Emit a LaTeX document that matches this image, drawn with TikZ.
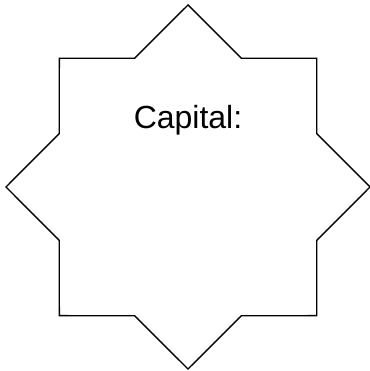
\documentclass[tikz,border=0pt]{standalone}
\usepackage{fontspec}
\setmainfont{Liberation Sans}
\usetikzlibrary{shapes.geometric,positioning}
\tikzset{
  seal/.style={star,star points=8,star point ratio=1.306,minimum size=364pt,
    inner sep=0pt,draw=black,line width=1.4pt,line join=miter},
  caption/.style={font=\fontsize{32}{36}\selectfont,text=black,inner sep=0pt},
}
\begin{document}
\begin{tikzpicture}[x=1pt,y=1pt]
  \useasboundingbox (0,0) rectangle (369,371);
  \node[seal] (star) at (188,184) {};
  \node[caption,anchor=base] (title) at ([yshift=58pt]star.center) {Capital:};
\end{tikzpicture}
\end{document}
